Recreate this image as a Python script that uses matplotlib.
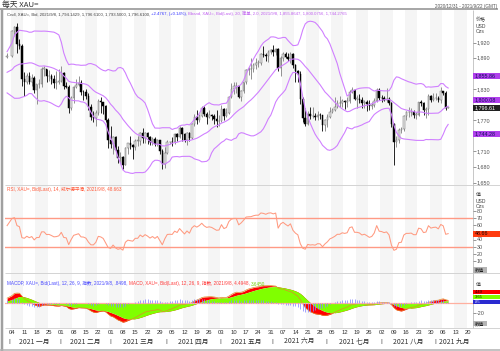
import numpy as np
import pandas as pd
import matplotlib
matplotlib.use("Agg")
import matplotlib.pyplot as plt
from matplotlib.patches import Rectangle

# ---------------- data ----------------
# warm-up closes (Oct-Dec 2020) used only for the indicators
warmup_close = [1906, 1899, 1913, 1877, 1887, 1893, 1930, 1922, 1891, 1901, 1908, 1899,
                1904, 1907, 1924, 1904, 1902, 1902, 1908, 1878, 1868, 1879,
                1895, 1909, 1904, 1949, 1951, 1863, 1877, 1866, 1874, 1888, 1888,
                1880, 1871, 1866, 1871, 1837, 1805, 1809, 1811, 1788, 1776,
                1815, 1831, 1841, 1838, 1863, 1870, 1838, 1836, 1840, 1827, 1854,
                1863, 1886, 1881, 1872, 1859, 1872, 1876, 1877, 1877, 1893]

# displayed daily candles: 2020-12-31, then every weekday 2021-01-04 .. 2021-09-08
opens = [1893,
    1895, 1943, 1950, 1918, 1913, 1849, 1844, 1855, 1845, 1851, 1828, 1840, 1840, 1870, 1870, 1855, 1856, 1850, 1843, 1844,
    1847, 1861, 1837, 1835, 1793, 1814, 1834, 1838, 1842, 1825, 1824, 1818, 1795, 1776, 1775, 1784, 1808, 1805, 1797, 1770,
    1733, 1724, 1737, 1712, 1697, 1700, 1684, 1716, 1726, 1722, 1719, 1731, 1731, 1745, 1736, 1745, 1738, 1728, 1734, 1725, 1732, 1711, 1685,
    1708, 1728, 1729, 1728, 1743, 1737, 1756, 1744, 1732, 1746, 1736, 1763, 1776, 1770, 1779, 1793, 1783, 1777, 1780, 1778, 1773, 1768,
    1769, 1792, 1779, 1784, 1815, 1831, 1836, 1836, 1816, 1827, 1844, 1867, 1869, 1870, 1877, 1881, 1881, 1898, 1897, 1895, 1903,
    1905, 1903, 1908, 1871, 1891, 1899, 1893, 1888, 1898, 1877, 1866, 1859, 1811, 1774, 1764, 1783, 1778, 1779, 1776, 1781, 1780, 1761,
    1770, 1777, 1787, 1791, 1796, 1803, 1803, 1808, 1806, 1808, 1825, 1828, 1812, 1812, 1810, 1804, 1806, 1802, 1797, 1799, 1807, 1829,
    1814, 1813, 1810, 1812, 1804, 1763, 1729, 1732, 1752, 1753, 1779, 1786, 1786, 1787, 1781, 1781, 1805, 1803, 1790, 1792, 1818, 1810,
    1813, 1814, 1809, 1827, 1823, 1794.14]
highs = [1900,
    1944, 1953, 1959, 1928, 1917, 1864, 1862, 1863, 1860, 1855, 1840, 1849, 1873, 1875, 1870, 1867, 1860, 1857, 1866, 1870,
    1875, 1864, 1845, 1838, 1817, 1836, 1850, 1855, 1848, 1829, 1830, 1823, 1801, 1788, 1790, 1812, 1816, 1806, 1800, 1775,
    1760, 1740, 1740, 1721, 1709, 1701, 1718, 1727, 1739, 1725, 1734, 1740, 1748, 1755, 1747, 1747, 1740, 1737, 1737, 1735, 1732, 1714, 1718,
    1732, 1730, 1738, 1746, 1745, 1759, 1757, 1745, 1748, 1748, 1765, 1783, 1790, 1782, 1797, 1797, 1786, 1790, 1783, 1782, 1790, 1781,
    1799, 1793, 1793, 1817, 1843, 1845, 1844, 1838, 1828, 1845, 1869, 1873, 1890, 1880, 1890, 1887, 1900, 1913, 1900, 1906, 1908,
    1916, 1909, 1909, 1894, 1903, 1903, 1900, 1903, 1900, 1878, 1867, 1865, 1816, 1794, 1788, 1795, 1795, 1785, 1789, 1785, 1781, 1772,
    1782, 1795, 1794, 1815, 1809, 1818, 1811, 1810, 1815, 1828, 1834, 1830, 1820, 1821, 1815, 1809, 1810, 1810, 1805, 1814, 1832, 1833,
    1820, 1818, 1832, 1816, 1805, 1765, 1740, 1755, 1757, 1781, 1788, 1795, 1794, 1790, 1786, 1806, 1809, 1806, 1796, 1821, 1820, 1822,
    1822, 1817, 1834, 1827, 1827, 1796.61]
lows = [1890,
    1893, 1933, 1901, 1907, 1836, 1817, 1840, 1841, 1836, 1822, 1802, 1832, 1835, 1855, 1844, 1847, 1840, 1832, 1830, 1840,
    1845, 1830, 1832, 1785, 1791, 1803, 1832, 1836, 1820, 1809, 1811, 1790, 1770, 1766, 1760, 1780, 1784, 1783, 1767, 1717,
    1717, 1705, 1710, 1687, 1687, 1676, 1683, 1705, 1714, 1696, 1712, 1721, 1723, 1727, 1726, 1724, 1722, 1723, 1721, 1721, 1705, 1677, 1678,
    1706, 1725, 1720, 1725, 1730, 1736, 1731, 1728, 1723, 1731, 1735, 1760, 1764, 1766, 1776, 1779, 1764, 1775, 1770, 1764, 1757, 1760,
    1766, 1770, 1777, 1782, 1814, 1821, 1822, 1813, 1808, 1822, 1841, 1858, 1850, 1864, 1869, 1874, 1877, 1892, 1885, 1882, 1898,
    1895, 1897, 1865, 1855, 1885, 1890, 1885, 1880, 1872, 1845, 1845, 1802, 1767, 1760, 1761, 1772, 1775, 1770, 1770, 1772, 1750, 1750,
    1757, 1774, 1785, 1788, 1793, 1795, 1795, 1792, 1796, 1803, 1822, 1810, 1794, 1804, 1794, 1794, 1789, 1790, 1792, 1795, 1806, 1810,
    1805, 1808, 1806, 1800, 1758, 1684, 1718, 1726, 1745, 1750, 1771, 1776, 1779, 1774, 1772, 1778, 1797, 1780, 1774, 1780, 1806, 1808,
    1810, 1806, 1803, 1820, 1791, 1793.50]
closes = [1895,
    1943, 1950, 1918, 1913, 1849, 1844, 1855, 1845, 1851, 1828, 1840, 1840, 1870, 1870, 1855, 1856, 1850, 1843, 1844, 1847,
    1861, 1837, 1835, 1793, 1814, 1834, 1838, 1842, 1825, 1824, 1818, 1795, 1776, 1775, 1784, 1808, 1805, 1797, 1770, 1733,
    1724, 1737, 1712, 1697, 1700, 1684, 1716, 1726, 1722, 1719, 1731, 1731, 1745, 1736, 1745, 1738, 1728, 1734, 1725, 1732, 1711, 1685, 1708,
    1728, 1729, 1728, 1743, 1737, 1756, 1744, 1732, 1746, 1736, 1763, 1776, 1770, 1779, 1793, 1783, 1777, 1780, 1778, 1773, 1768, 1769,
    1792, 1779, 1784, 1815, 1831, 1836, 1836, 1816, 1827, 1844, 1867, 1869, 1870, 1877, 1881, 1881, 1898, 1897, 1895, 1903, 1905,
    1903, 1908, 1871, 1891, 1899, 1893, 1888, 1898, 1877, 1866, 1859, 1811, 1774, 1764, 1783, 1778, 1779, 1776, 1781, 1780, 1761, 1770,
    1777, 1787, 1791, 1796, 1803, 1803, 1808, 1806, 1808, 1825, 1828, 1812, 1812, 1810, 1804, 1806, 1802, 1797, 1799, 1807, 1829, 1814,
    1813, 1810, 1812, 1804, 1763, 1729, 1732, 1752, 1753, 1779, 1786, 1786, 1787, 1781, 1781, 1805, 1803, 1790, 1792, 1818, 1810, 1813,
    1814, 1809, 1827, 1823, 1794.13, 1796.61]

# last values shown in the right-hand labels / legends
bb_last = [1855.8647, 1800.0756, 1744.2765]
close_last = 1796.61
rsi_last = 48.663
macd_last, signal_last, hist_last = 4.4948, 3.6450, 0.8498

price_ticks = [1650, 1680, 1710, 1740, 1770, 1800, 1830, 1860, 1890, 1920]
rsi_ticks = [10, 20, 30, 40, 50, 60, 70, 80]
macd_ticks = [20, -20]
month_names = ["2021 一月", "2021 二月", "2021 三月", "2021 四月", "2021 五月",
               "2021 六月", "2021 七月", "2021 八月", "2021 九月"]

# ---------------- setup ----------------
W, H = 500, 351
FONT = ['Liberation Sans', 'Noto Sans CJK SC', 'DejaVu Sans']
CJK = ['Noto Sans CJK SC', 'DejaVu Sans']
plt.rcParams['font.family'] = FONT
PT = 0.72  # points per pixel at dpi 100

dates = pd.DatetimeIndex([pd.Timestamp('2020-12-31')]).append(pd.bdate_range('2021-01-04', '2021-09-08'))
assert len(dates) == len(closes) == len(opens) == len(highs) == len(lows)
base = np.datetime64('2020-12-31')
def widx(d):
    return np.busday_count(base, np.asarray(d, dtype='datetime64[D]'))
idx = widx(dates.values)

o = np.array(opens, float); h = np.array(highs, float)
l = np.array(lows, float); c = np.array(closes, float)

# indicators
s = pd.Series(np.array(warmup_close + closes, float))
sma = s.rolling(20).mean()
sd = s.rolling(20).std(ddof=0)
bb_up = (sma + 2 * sd).values[-len(c):]
bb_mid = sma.values[-len(c):]
bb_lo = (sma - 2 * sd).values[-len(c):]
ema12 = s.ewm(span=12, adjust=False).mean()
ema26 = s.ewm(span=26, adjust=False).mean()
macd = ema12 - ema26
sig = macd.ewm(span=9, adjust=False).mean()
hist = (macd - sig).values[-len(c):]
macd = macd.values[-len(c):]
sig = sig.values[-len(c):]
d = s.diff()
ag = d.clip(lower=0).ewm(alpha=1 / 14, adjust=False).mean()
al = (-d.clip(upper=0)).ewm(alpha=1 / 14, adjust=False).mean()
rsi = (100 - 100 / (1 + ag / al)).values[-len(c):]

fig = plt.figure(figsize=(5, 3.51), dpi=100)
fig.patch.set_facecolor('white')

def rect(x0, y0, x1, y1):
    return [x0 / W, 1 - y1 / H, (x1 - x0) / W, (y1 - y0) / H]

PL, PR = 4.5, 472.5
ax_main = fig.add_axes(rect(PL, 9.5, PR, 185))
ax_rsi = fig.add_axes(rect(PL, 185, PR, 273))
ax_macd = fig.add_axes(rect(PL, 273, PR, 328))
ax_date = fig.add_axes(rect(PL, 328, PR, 349))
XLIM = (-1.055, 188.88)
for a in (ax_main, ax_rsi, ax_macd, ax_date):
    a.set_xlim(XLIM)
    a.set_xticks([]); a.set_yticks([])
    for sp in a.spines.values():
        sp.set_visible(False)
    a.patch.set_alpha(0)
ax_main.set_ylim(1645.3, 1984.1)
ax_rsi.set_ylim(-6.2, 116.4)
ax_macd.set_ylim(-47.7, 56.0)
ax_date.set_ylim(349, 328)

# weekly shading
mondays = pd.date_range('2020-12-28', '2021-09-20', freq='7D')
for m in widx(mondays.values):
    if ((m - 2) // 5) % 2 == 0:
        for a in (ax_main, ax_rsi, ax_macd):
            a.axvspan(m - 0.5, m + 4.5, color='#f5f5f5', lw=0, zorder=0)

# candles
up = c >= o
ax_main.vlines(idx[up], l[up], h[up], color='#808080', lw=0.6, zorder=2)
ax_main.vlines(idx[~up], l[~up], h[~up], color='#000000', lw=0.6, zorder=2)
bh = np.maximum(np.abs(c - o), 0.8)
ax_main.bar(idx[up], bh[up], bottom=np.minimum(o, c)[up], width=0.62,
            color='#e6e6e6', edgecolor='#707070', lw=0.35, zorder=3)
ax_main.bar(idx[~up], bh[~up], bottom=np.minimum(o, c)[~up], width=0.62,
            color='#000000', edgecolor='#000000', lw=0.35, zorder=3)
# bollinger
for band in (bb_up, bb_mid, bb_lo):
    ax_main.plot(idx, band, color='#d080ff', lw=0.8, zorder=4)

# RSI
ax_rsi.axhline(70, color='#ff9a85', lw=1.0, zorder=2)
ax_rsi.axhline(30, color='#ff9a85', lw=1.0, zorder=2)
ax_rsi.plot(idx, rsi, color='#ff9a80', lw=0.75, zorder=3)

# MACD
ax_macd.fill_between(idx, macd, sig, color='#ff0000', lw=0, zorder=2)
ax_macd.fill_between(idx, 0, sig, color='#80ff00', lw=0, zorder=3)
ax_macd.plot(idx, macd, color='#e08a2a', lw=0.5, zorder=4)
ax_macd.axhline(0, color='#ffb0a0', lw=0.9, zorder=4)
ax_macd.vlines(idx, 0, hist, color='#8a8aff', lw=0.55, zorder=5)

# ---------------- overlay (pixel space) ----------------
ov = fig.add_axes([0, 0, 1, 1], zorder=10)
ov.set_xlim(0, W); ov.set_ylim(H, 0); ov.axis('off'); ov.patch.set_alpha(0)

def ypix(ax, v):
    return H - ax.transData.transform((0, v))[1]

def hline(y, x0, x1, color, lw):
    ov.plot([x0, x1], [y, y], color=color, lw=lw * PT, solid_capstyle='butt')

def vline(x, y0, y1, color, lw):
    ov.plot([x, x], [y0, y1], color=color, lw=lw * PT, solid_capstyle='butt')

# frame and separators
hline(9, 0, 498, '#a8a8a8', 2)
vline(1.5, 9, 351, '#a0a0a0', 2.5)
hline(349.8, 0, 500, '#b0b0b0', 1.5)
hline(185, PL, W, '#d4d4d4', 1)
hline(273, PL, W, '#d4d4d4', 1)
hline(328, PL, W, '#d4d4d4', 1)
vline(PR, 9.5, 328, '#c8c8c8', 1)

# titles
ov.text(2, 4.8, "每天 XAU=", family=CJK, fontsize=5.6, color='#303030', va='center', ha='left')
ov.text(497, 6.3, "2020/12/31 - 2021/9/22 (GMT)", fontsize=3.3, color='#505050', va='center', ha='right')

def chain(x, y, parts, fs):
    t = ov.text(x, y, parts[0][0], color=parts[0][1], fontsize=fs, va='bottom', ha='left', family=FONT)
    for txt, col in parts[1:]:
        t = ov.annotate(txt, xy=(1, 0), xycoords=t, color=col, fontsize=fs,
                        va='bottom', ha='left', family=FONT)

chain(7, 16.3, [("Cndl, XAU=, Bid, 2021/9/8, 1,794.1429, 1,796.6100, 1,793.5000, 1,796.6100, ", '#404040'),
                ("+2.4767, (+0.14%), ", '#3030ff'),
                ("Bband, XAU=, Bid(Last), 20, 简单, 2.0, 2021/9/8, 1,855.8647, 1,800.0756, 1,744.2765", '#c060f0')],
      fs=3.1)
chain(7, 191.5, [("RSI, XAU=, Bid(Last), 14, 威尔德平滑, 2021/9/8, 48.663", '#ff5a3a')], fs=3.35)
chain(7, 286.5, [("MACDP, XAU=, Bid(Last), 12, 26, 9, 指数, 2021/9/8, .8498, ", '#4848ff'),
                 ("MACD, XAU=, Bid(Last), 12, 26, 9, 指数, 2021/9/8, 4.4948, ", '#ff3a3a'),
                 ("3.6450", '#70d000')], fs=3.35)

# right axis headers
for txt, y in (("价格", 20), ("USD", 26), ("Ozs", 31.5)):
    ov.text(476, y, txt, family=FONT, fontsize=3.6, color='#404040', va='center', ha='left')
for txt, y in (("值", 195), ("USD", 201.5), ("Ozs", 207)):
    ov.text(476, y, txt, family=FONT, fontsize=3.6, color='#404040', va='center', ha='left')
ov.text(476, 284, "值", family=FONT, fontsize=3.6, color='#404040', va='center', ha='left')

# value boxes
boxes = []
def box(yc, hgt, fc, txt, tc, fs=3.9):
    boxes.append((yc, hgt))
    ov.add_patch(Rectangle((PR, yc - hgt / 2), W - PR, hgt, fc=fc, ec='none', zorder=5))
    ov.text(PR + 2.5, yc, txt, fontsize=fs, color=tc, va='center', ha='left', zorder=6)

y_close = ypix(ax_main, close_last) + 1.2
box(ypix(ax_main, bb_last[0]), 6, '#b040ec', f"{bb_last[0]:,.2f}", '#10105a')
box(y_close - 8, 6, '#b040ec', f"{bb_last[1]:,.2f}", '#10105a')
box(y_close, 6, '#202020', f"{close_last:,.2f}", '#ffffff')
box(ypix(ax_main, bb_last[2]), 6, '#b040ec', f"{bb_last[2]:,.2f}", '#10105a')
box(ypix(ax_rsi, rsi_last), 6, '#ff3c10', f"{rsi_last:.2f}", '#200000')
y_h = ypix(ax_macd, hist_last)
box(y_h, 4.4, '#2a2ad0', f"{hist_last:.2f}".lstrip('0'), '#e0e0ff', fs=3.0)
box(y_h - 5, 4.4, '#80ff00', f"{signal_last:.2f}", '#103000', fs=3.0)
box(y_h - 10, 4.4, '#ff0000', f"{macd_last:.2f}", '#200000', fs=3.0)
for yb in (270, 323.5):
    boxes.append((yb, 5.2))
    ov.add_patch(Rectangle((473, yb - 2.6), 13.5, 5.2, fc='#b4b4b4', ec='none', zorder=5))
    ov.text(479.7, yb, "数值", family=CJK, fontsize=3.3, color='#202020', va='center', ha='center', zorder=6)

def covered(y):
    return any(abs(y - yc) < hg / 2 + 2.2 for yc, hg in boxes)

# tick labels (those hidden behind value boxes are not drawn)
TK = dict(fontsize=3.9, color='#505050', va='center', ha='left')
for a, ticks, fmt in ((ax_main, price_ticks, "{:,}"), (ax_rsi, rsi_ticks, "{}"), (ax_macd, macd_ticks, "{}")):
    for v in ticks:
        y = ypix(a, v)
        hline(y, 473, 475.5, '#808080', 0.8)
        if not covered(y):
            ov.text(476.5, y, fmt.format(v), **TK)

# ---------------- date axis ----------------
tick_days = pd.date_range('2021-01-04', '2021-09-20', freq='7D')
for dte, i in zip(tick_days, widx(tick_days.values)):
    ax_date.text(i, 332.3, dte.strftime('%d'), fontsize=4.2, color='#303030', va='center', ha='center')
month_starts = [widx(np.datetime64(f'2021-{m:02d}-01')) for m in range(1, 10)]
seps = [ms - 0.3 for ms in month_starts]
ends = seps[1:] + [XLIM[1]]
for name, a0, a1 in zip(month_names, seps, ends):
    ax_date.text(a0, 341.5, "|", fontsize=4.6, color='#404040', va='center', ha='center')
    ax_date.text((a0 + a1) / 2, 341.5, name, family=CJK, fontsize=4.9, color='#303030', va='center', ha='center')

fig.savefig('out.png', dpi=100, facecolor='white')
